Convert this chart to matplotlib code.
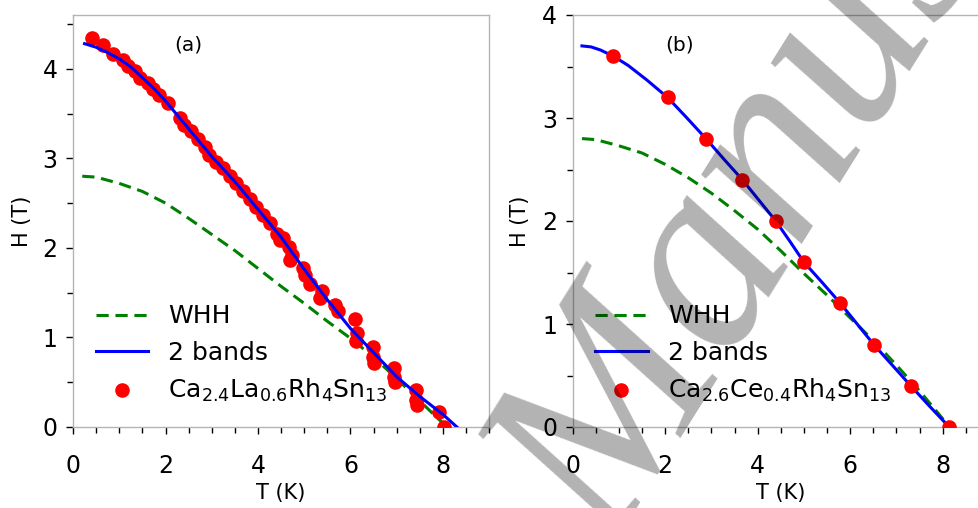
import matplotlib
matplotlib.use("Agg")
import matplotlib.pyplot as plt
from matplotlib.ticker import MultipleLocator

# ---------------- data: panel (a) ----------------
Ta_pts = [0.40, 0.65, 0.87, 1.08, 1.19, 1.33, 1.44, 1.62, 1.73, 1.87, 2.05,
          2.31, 2.41, 2.56, 2.70, 2.85, 2.95, 3.10, 3.24, 3.39, 3.53, 3.68,
          3.82, 3.96, 4.11, 4.25, 4.40, 4.48, 4.54, 4.66, 4.69, 4.73, 4.98,
          5.02, 5.12, 5.34, 5.38, 5.66, 5.74,
          6.10, 6.13, 6.12, 6.49, 6.49, 6.50, 6.94, 6.95, 6.96,
          7.41, 7.42, 7.43, 7.92, 8.02]
Ha_pts = [4.34, 4.26, 4.17, 4.10, 4.03, 3.97, 3.90, 3.84, 3.77, 3.71, 3.62,
          3.45, 3.37, 3.30, 3.21, 3.13, 3.04, 2.96, 2.89, 2.80, 2.72, 2.63,
          2.55, 2.46, 2.37, 2.28, 2.16, 2.09, 2.11, 2.01, 1.87, 1.92, 1.77,
          1.70, 1.60, 1.44, 1.52, 1.36, 1.29,
          1.21, 1.05, 0.96, 0.89, 0.78, 0.71, 0.66, 0.56, 0.50,
          0.41, 0.30, 0.25, 0.17, 0.00]

Ta_2b = [0.25, 0.5, 0.75, 1.0, 1.25, 1.5, 1.75, 2.0, 2.5, 3.0, 3.5, 4.0, 4.5,
         5.0, 5.5, 6.0, 6.5, 7.0, 7.5, 8.0, 8.3]
Ha_2b = [4.28, 4.24, 4.18, 4.11, 4.02, 3.90, 3.78, 3.64, 3.33, 3.02, 2.74,
         2.43, 2.12, 1.76, 1.42, 1.10, 0.83, 0.56, 0.34, 0.14, 0.00]

Ta_whh = [0.2, 0.5, 1.0, 1.5, 2.0, 2.5, 3.0, 3.5, 4.0, 4.5, 5.0, 5.5, 6.0,
          6.5, 7.0, 7.5, 7.9, 8.1]
Ha_whh = [2.80, 2.79, 2.72, 2.63, 2.50, 2.33, 2.15, 1.97, 1.77, 1.57, 1.38,
          1.18, 0.99, 0.78, 0.54, 0.29, 0.09, 0.00]

# ---------------- data: panel (b) ----------------
Tb_pts = [0.88, 2.05, 2.88, 3.67, 4.39, 5.00, 5.79, 6.51, 7.31, 8.14]
Hb_pts = [3.6, 3.2, 2.8, 2.4, 2.0, 1.6, 1.2, 0.8, 0.4, 0.0]

Tb_2b = [0.2, 0.4, 0.6, 0.88, 1.2, 1.6, 2.05, 2.45, 2.88, 3.27, 3.67, 4.03,
         4.39, 4.7, 5.0, 5.4, 5.79, 6.15, 6.51, 6.91, 7.31, 7.72, 8.14]
Hb_2b = [3.70, 3.69, 3.66, 3.60, 3.51, 3.37, 3.20, 3.01, 2.80, 2.60, 2.40,
         2.20, 2.00, 1.80, 1.60, 1.40, 1.20, 1.00, 0.80, 0.60, 0.40, 0.20,
         0.00]

Tb_whh = [0.2, 0.5, 1.0, 1.5, 2.0, 2.5, 3.0, 3.5, 4.0, 4.5, 5.0, 5.5, 6.0,
          6.5, 7.0, 7.5, 8.0, 8.12]
Hb_whh = [2.80, 2.79, 2.73, 2.66, 2.55, 2.42, 2.27, 2.10, 1.92, 1.71, 1.49,
          1.28, 1.06, 0.84, 0.60, 0.35, 0.08, 0.00]

label_a = r"Ca$_{2.4}$La$_{0.6}$Rh$_4$Sn$_{13}$"
label_b = r"Ca$_{2.6}$Ce$_{0.4}$Rh$_4$Sn$_{13}$"

W, H = 979, 508
fig = plt.figure(figsize=(W / 100, H / 100), dpi=100)
axA = fig.add_axes([73 / W, 81 / H, 416.25 / W, 412 / H])
axB = fig.add_axes([572.7 / W, 81 / H, 416.25 / W, 412 / H])


def style(ax, ytop):
    ax.set_xlim(0, 9)
    ax.set_ylim(0, ytop)
    ax.xaxis.set_major_locator(MultipleLocator(2))
    ax.xaxis.set_minor_locator(MultipleLocator(0.5))
    ax.yaxis.set_major_locator(MultipleLocator(1))
    ax.yaxis.set_minor_locator(MultipleLocator(0.5))
    for s in ax.spines.values():
        s.set_color("#b4b4b4")
        s.set_linewidth(1.0)
    ax.tick_params(which="both", direction="out", color="black", width=1)
    ax.tick_params(which="major", length=4.7, labelsize=17)
    ax.tick_params(which="minor", length=4.0)
    ax.tick_params(axis="x", which="major", pad=15)
    ax.tick_params(axis="y", which="major", pad=6.5)
    ax.set_xlabel("T (K)", fontsize=15)
    ax.set_ylabel("H (T)", fontsize=15)


style(axA, 4.6)
style(axB, 4.0)

# panel (a)
axA.plot(Ta_whh, Ha_whh, color="green", ls="--", lw=2.2, dashes=(4, 2.2),
         label="WHH", zorder=2)
axA.plot(Ta_pts, Ha_pts, "o", color="red", ms=10.5, mew=0, label=label_a,
         zorder=3)
axA.plot(Ta_2b, Ha_2b, color="blue", lw=2.2, label="2 bands", zorder=4)
axA.text(2.5, 4.27, "(a)", fontsize=14.5, ha="center", va="center")

# panel (b)
axB.plot(Tb_whh, Hb_whh, color="green", ls="--", lw=2.2, dashes=(4, 2.2),
         label="WHH", zorder=2)
axB.plot(Tb_2b, Hb_2b, color="blue", lw=2.2, label="2 bands", zorder=3)
axB.plot(Tb_pts, Hb_pts, "o", color="red", ms=10.5, mew=0, label=label_b,
         zorder=4)
axB.text(2.32, 3.71, "(b)", fontsize=14.5, ha="center", va="center")

for ax in (axA, axB):
    h, l = ax.get_legend_handles_labels()
    order = [l.index("WHH"), l.index("2 bands")] + [i for i, t in enumerate(l)
                                                    if t.startswith("Ca")]
    ax.legend([h[i] for i in order], [l[i] for i in order], loc="lower left",
              frameon=False, fontsize=18, handlelength=2.1)

axA.yaxis.set_label_coords(-0.098, 0.5)
axB.yaxis.set_label_coords(-0.103, 0.5)
axA.xaxis.set_label_coords(0.5, -0.135)
axB.xaxis.set_label_coords(0.5, -0.135)

# watermark overlay
fig.text(613 / W, 1 - 552 / H, "Manuscript", family="Liberation Serif",
         style="italic", fontsize=190, color="black", alpha=0.3,
         rotation=58, rotation_mode="anchor", ha="left", va="baseline",
         zorder=10)

fig.savefig("out.png", dpi=100)
